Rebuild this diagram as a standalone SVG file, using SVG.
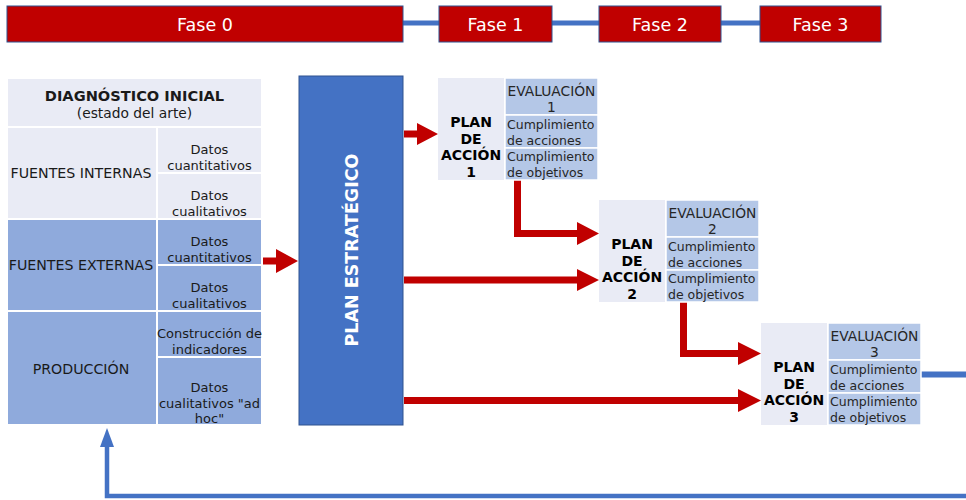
<svg xmlns="http://www.w3.org/2000/svg" width="966" height="500" viewBox="0 0 966 500">
<style>
.fase{fill:#c00000;stroke:#2f528f;stroke-width:1}
.ftxt{font-family:"DejaVu Sans",sans-serif;font-size:17.5px;fill:#fff;text-anchor:middle}
.cell{stroke:#fff;stroke-width:2}
.lt{fill:#e9ebf5}
.md{fill:#8faadc}
.ev{fill:#b4c7e7;stroke:#fff;stroke-width:1.5}
.pb{fill:#e9ebf5}
.t{font-family:"DejaVu Sans",sans-serif;fill:#1a1a1a;text-anchor:middle}
.big{font-size:14.2px}
.par{font-size:13.8px}
.sm{font-size:13px}
.hb{font-size:14.6px;font-weight:bold}
.pt{font-family:"DejaVu Sans",sans-serif;font-size:14px;font-weight:bold;fill:#000;text-anchor:middle}
.et{font-family:"DejaVu Sans",sans-serif;font-size:13.8px;fill:#262626;text-anchor:middle}
.ct{font-family:"DejaVu Sans",sans-serif;font-size:12.5px;fill:#262626}
.red{fill:#c00000}
.blue{fill:none;stroke:#4472c4}
</style>

<g id="connectors">
  <line class="blue" x1="403" y1="23" x2="439" y2="23" stroke-width="5"/>
  <line class="blue" x1="552" y1="23" x2="599" y2="23" stroke-width="5"/>
  <line class="blue" x1="721" y1="23" x2="760" y2="23" stroke-width="5"/>
  <polygon class="red" points="262,257.5 276,257.5 276,249 298,261 276,273 276,264.5 262,264.5"/>
  <polygon class="red" points="404,130.5 417,130.5 417,123 438,134 417,145 417,137.5 404,137.5"/>
  <polygon class="red" points="514,180 521,180 521,230 577,230 577,222 599,233.5 577,245 577,237 514,237"/>
  <polygon class="red" points="404,276.5 577,276.5 577,269 599,280 577,291 577,283.5 404,283.5"/>
  <polygon class="red" points="680,302 687,302 687,350 738,350 738,342 761,353.5 738,365 738,357 680,357"/>
  <polygon class="red" points="404,397 738,397 738,389 761,400.5 738,412 738,404 404,404"/>
  <line class="blue" x1="921" y1="374.5" x2="966" y2="374.5" stroke-width="6"/>
  <polyline class="blue" points="966,496 107,496 107,445" stroke-width="4.5"/>
  <polygon fill="#4472c4" points="107,428 100,447 114,447"/>
</g>

<g id="fase0"><rect class="fase" x="7" y="6" width="396" height="36"/><text class="ftxt" x="205" y="30.5">Fase 0</text></g>
<g id="fase1"><rect class="fase" x="439" y="6" width="113" height="36"/><text class="ftxt" x="495.5" y="30.5">Fase 1</text></g>
<g id="fase2"><rect class="fase" x="599" y="6" width="122" height="36"/><text class="ftxt" x="660" y="30.5">Fase 2</text></g>
<g id="fase3"><rect class="fase" x="760" y="6" width="121" height="36"/><text class="ftxt" x="820.5" y="30.5">Fase 3</text></g>

<g id="diagnostico">
  <rect class="cell lt" x="7" y="78" width="255" height="49"/>
  <text class="t hb" x="134.5" y="101">DIAGNÓSTICO INICIAL</text>
  <text class="t par" x="134.5" y="118">(estado del arte)</text>

  <rect class="cell lt" x="7" y="127" width="150" height="92"/>
  <text class="t big" x="81" y="178">FUENTES INTERNAS</text>
  <rect class="cell lt" x="157" y="127" width="105" height="46"/>
  <text class="t sm" x="209.5" y="154">Datos</text>
  <text class="t sm" x="209.5" y="170">cuantitativos</text>
  <rect class="cell lt" x="157" y="173" width="105" height="46"/>
  <text class="t sm" x="209.5" y="200">Datos</text>
  <text class="t sm" x="209.5" y="216">cualitativos</text>

  <rect class="cell md" x="7" y="219" width="150" height="92"/>
  <text class="t big" x="81" y="270">FUENTES EXTERNAS</text>
  <rect class="cell md" x="157" y="219" width="105" height="46"/>
  <text class="t sm" x="209.5" y="246">Datos</text>
  <text class="t sm" x="209.5" y="262">cuantitativos</text>
  <rect class="cell md" x="157" y="265" width="105" height="46"/>
  <text class="t sm" x="209.5" y="292">Datos</text>
  <text class="t sm" x="209.5" y="308">cualitativos</text>

  <rect class="cell md" x="7" y="311" width="150" height="114"/>
  <text class="t big" x="81" y="374">PRODUCCIÓN</text>
  <rect class="cell md" x="157" y="311" width="105" height="46"/>
  <text class="t sm" x="209.5" y="338">Construcción de</text>
  <text class="t sm" x="209.5" y="354">indicadores</text>
  <rect class="cell md" x="157" y="357" width="105" height="68"/>
  <text class="t sm" x="209.5" y="392">Datos</text>
  <text class="t sm" x="209.5" y="408">cualitativos "ad</text>
  <text class="t sm" x="209.5" y="423">hoc"</text>
</g>

<g id="plan-estrategico">
  <rect x="299" y="76" width="104" height="349" fill="#4472c4" stroke="#2f528f" stroke-width="1"/>
  <text transform="translate(358,250) rotate(-90)" font-family="DejaVu Sans, sans-serif" font-size="17.5" font-weight="bold" fill="#fff" text-anchor="middle">PLAN ESTRATÉGICO</text>
</g>

<g id="plan1" transform="translate(438,78)">
  <rect class="pb" x="0" y="0" width="66" height="102"/>
  <rect class="ev" x="67" y="0" width="93" height="37"/>
  <rect class="ev" x="67" y="37" width="93" height="33"/>
  <rect class="ev" x="67" y="70" width="93" height="32"/>
  <text class="pt" x="33" y="49">PLAN</text>
  <text class="pt" x="33" y="66">DE</text>
  <text class="pt" x="33" y="82">ACCIÓN</text>
  <text class="pt" x="33" y="99">1</text>
  <text class="et" x="113.5" y="18">EVALUACIÓN</text>
  <text class="et" x="113.5" y="34">1</text>
  <text class="ct" x="69" y="51">Cumplimiento</text>
  <text class="ct" x="69" y="67">de acciones</text>
  <text class="ct" x="69" y="83">Cumplimiento</text>
  <text class="ct" x="69" y="99">de objetivos</text>
</g>

<g id="plan2" transform="translate(599,200)">
  <rect class="pb" x="0" y="0" width="66" height="102"/>
  <rect class="ev" x="67" y="0" width="93" height="37"/>
  <rect class="ev" x="67" y="37" width="93" height="33"/>
  <rect class="ev" x="67" y="70" width="93" height="32"/>
  <text class="pt" x="33" y="49">PLAN</text>
  <text class="pt" x="33" y="66">DE</text>
  <text class="pt" x="33" y="82">ACCIÓN</text>
  <text class="pt" x="33" y="99">2</text>
  <text class="et" x="113.5" y="18">EVALUACIÓN</text>
  <text class="et" x="113.5" y="34">2</text>
  <text class="ct" x="69" y="51">Cumplimiento</text>
  <text class="ct" x="69" y="67">de acciones</text>
  <text class="ct" x="69" y="83">Cumplimiento</text>
  <text class="ct" x="69" y="99">de objetivos</text>
</g>

<g id="plan3" transform="translate(761,323)">
  <rect class="pb" x="0" y="0" width="66" height="102"/>
  <rect class="ev" x="67" y="0" width="93" height="37"/>
  <rect class="ev" x="67" y="37" width="93" height="33"/>
  <rect class="ev" x="67" y="70" width="93" height="32"/>
  <text class="pt" x="33" y="49">PLAN</text>
  <text class="pt" x="33" y="66">DE</text>
  <text class="pt" x="33" y="82">ACCIÓN</text>
  <text class="pt" x="33" y="99">3</text>
  <text class="et" x="113.5" y="18">EVALUACIÓN</text>
  <text class="et" x="113.5" y="34">3</text>
  <text class="ct" x="69" y="51">Cumplimiento</text>
  <text class="ct" x="69" y="67">de acciones</text>
  <text class="ct" x="69" y="83">Cumplimiento</text>
  <text class="ct" x="69" y="99">de objetivos</text>
</g>
</svg>
